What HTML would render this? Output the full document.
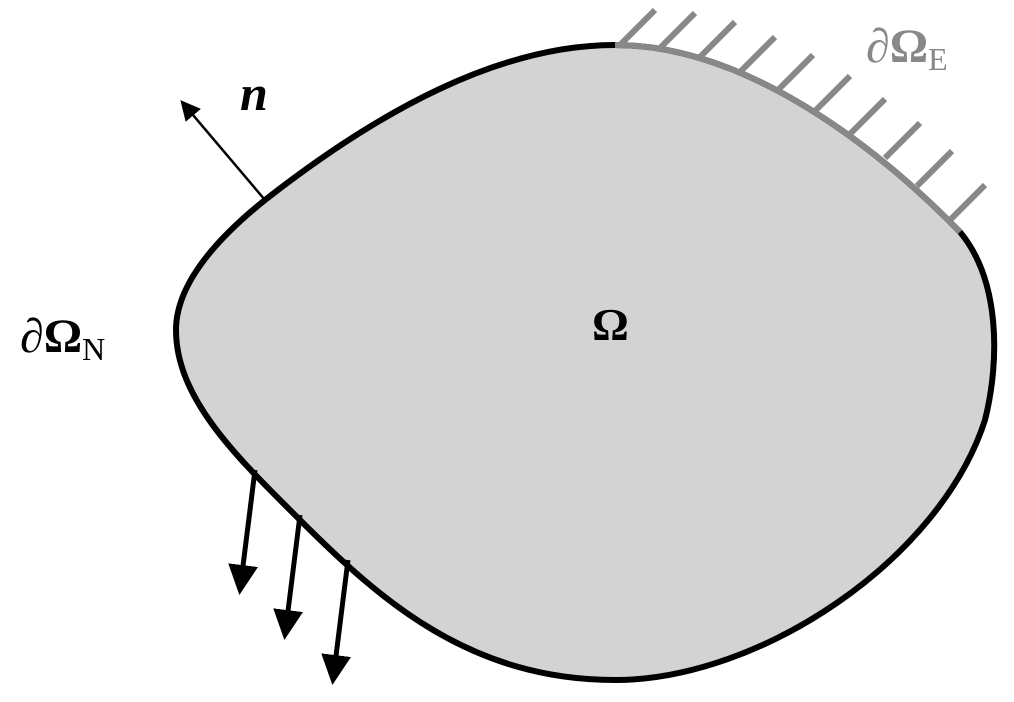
<!DOCTYPE html>
<html><head><meta charset="utf-8"><style>
html,body{margin:0;padding:0;background:#fff;}
svg{display:block;}
text{font-family:"Liberation Serif","DejaVu Serif",serif;}
</style></head><body>
<svg width="1014" height="702" viewBox="0 0 1014 702">
<defs>
<marker id="ah" markerWidth="6" markerHeight="6" refX="5" refY="3" orient="auto" markerUnits="strokeWidth"><path d="M0,0 L6,3 L0,6 Z" fill="#000"/></marker>
<marker id="ah2" markerWidth="8" markerHeight="8" refX="7" refY="4" orient="auto" markerUnits="strokeWidth"><path d="M0,0 L8,4 L0,8 Z" fill="#000"/></marker>
</defs>
<path d="M176,330 C176,285 215,240 265,200 C380,110 500,45 615,45 C760,45 900,170 960,232 C1000,280 1000,360 985,420 C940,560 760,680 615,680 C470,680 380,600 300,520 C240,460 176,400 176,330 Z" fill="#d3d3d3" stroke="#000" stroke-width="6"/>
<path d="M615,45 C760,45 900,170 960,232" fill="none" stroke="#888" stroke-width="6"/>
<g stroke="#888" stroke-width="6">
<line x1="620" y1="45" x2="655" y2="10"/>
<line x1="660" y1="48" x2="695" y2="13"/>
<line x1="700" y1="57" x2="735" y2="22"/>
<line x1="740" y1="72" x2="775" y2="37"/>
<line x1="778" y1="90" x2="813" y2="55"/>
<line x1="815" y1="111" x2="850" y2="76"/>
<line x1="850" y1="134" x2="885" y2="99"/>
<line x1="885" y1="158" x2="920" y2="123"/>
<line x1="917" y1="186" x2="952" y2="151"/>
<line x1="950" y1="220" x2="985" y2="185"/>
</g>
<line x1="265" y1="200" x2="182" y2="102" stroke="#000" stroke-width="2.5" marker-end="url(#ah2)"/>
<g stroke="#000" stroke-width="5">
<line x1="255" y1="470" x2="240" y2="590" marker-end="url(#ah)"/>
<line x1="300" y1="515" x2="285" y2="635" marker-end="url(#ah)"/>
<line x1="348" y1="560" x2="333" y2="680" marker-end="url(#ah)"/>
</g>
<text x="240" y="110" font-size="50" font-weight="bold" font-style="italic">n</text>
<text x="866" y="62" font-size="48" font-weight="bold" fill="#888">∂Ω<tspan font-size="32" font-weight="normal" dy="8">E</tspan></text>
<text x="20" y="352" font-size="48" font-weight="bold">∂Ω<tspan font-size="32" font-weight="normal" dy="8">N</tspan></text>
<text x="592" y="340" font-size="46" font-weight="bold">Ω</text>
</svg>
</body></html>
